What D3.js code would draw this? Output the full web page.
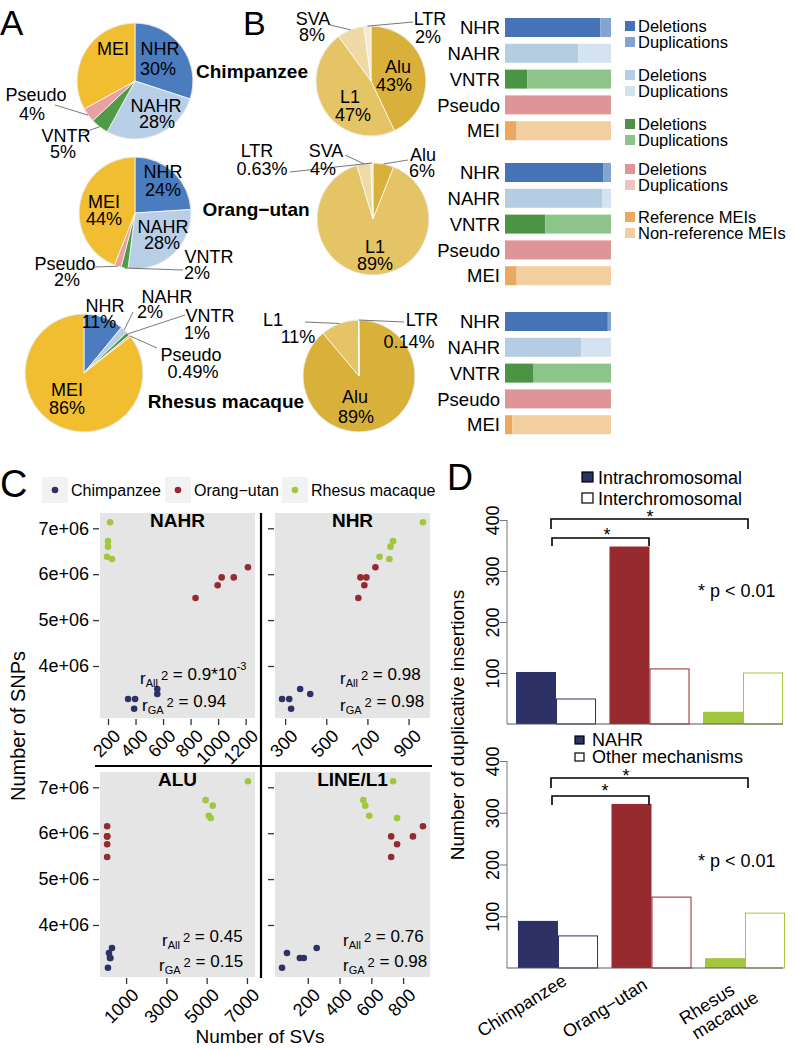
<!DOCTYPE html>
<html><head><meta charset="utf-8">
<script src="https://cdn.jsdelivr.net/npm/d3@7"></script>
<style>
body{margin:0;background:#fff;}
text{font-family:"Liberation Sans",Arial,Helvetica,sans-serif;fill:#000;}
</style>
</head><body><svg id="c" width="796" height="1049"></svg>
<script>
// ---------------- DATA ----------------
// Panel A: SV mechanism pies
const mechCats = ["NHR","NAHR","VNTR","Pseudo","MEI"];
const mechChimp = [30,28,5,4,33];
const mechOrang = [24,28,2,2,44];
const mechRhesus = [11,2,1,0.49,86];
// Panel B: MEI class pies
const meiCats = ["Alu","L1","SVA","LTR"];
const meiChimp = [43,47,8,2];
const meiOrang = [6,89,4,0.63];
const meiRhesus = [89,11,0,0.14];
// Panel B: bars, % deletions (rest = duplications / non-reference)
const svRows = ["NHR","NAHR","VNTR","Pseudo","MEI"];
const delPctChimp = [90,69,21,100,11];
const delPctOrang = [93,92,38,100,11];
const delPctRhesus = [97,72,27,100,7];
const barLegendLabels = [["Deletions","Duplications"],["Deletions","Duplications"],["Deletions","Duplications"],["Deletions","Duplications"],["Reference MEIs","Non-reference MEIs"]];
// Panel C: SNPs vs SVs
const speciesC = ["Chimpanzee","Orang\u2212utan","Rhesus macaque"];
const snpChimp = [3.28e6,3.28e6,3.07e6,3.50e6,3.39e6];
const snpOrang = [5.48e6,5.76e6,5.93e6,5.93e6,6.15e6];
const snpRhesus = [6.38e6,6.33e6,6.60e6,6.72e6,7.13e6];
const nahrChimp = [346,397,390,558,558];
const nahrOrang = [836,997,1026,1114,1217];
const nahrRhesus = [193,229,200,200,215];
const nhrChimp = [285,320,329,373,422];
const nhrOrang = [656,685,666,695,739];
const nhrRhesus = [759,807,812,825,970];
const aluChimp = [200,220,100,300,150];
const aluOrang = [60,60,55,65,60];
const aluRhesus = [5100,5200,5300,4950,7050];
const l1Chimp = [150,175,38,256,69];
const l1Orang = [725,762,725,862,925];
const l1Rhesus = [587,762,562,550,737];
const panelTitles = ["NAHR","NHR","ALU","LINE/L1"];
const xTicksC = [[200,400,600,800,1000,1200],[300,500,700,900],[1000,3000,5000,7000],[200,400,600,800]];
const yTicksC = [4e6,5e6,6e6,7e6];
const yTickLabelsC = ["4e+06","5e+06","6e+06","7e+06"];
const r2All = ["0.9*10^-3","0.98","0.45","0.76"];
const r2GA = ["0.94","0.98","0.15","0.98"];
// Panel D
const speciesD = ["Chimpanzee","Orang\u2212utan","Rhesus\nmacaque"];
const intraVals = [102,348,24];
const interVals = [49,108,100];
const nahrVals = [91,317,19];
const otherVals = [62,137,106];
const yTicksD = [100,200,300,400];

// ---------------- STYLE ----------------
const svg = d3.select("#c");
svg.append("rect").attr("width",796).attr("height",1049).attr("fill","#fff");
const mechColors = ["#4a7cbf","#b8cfe7","#4f9b48","#e9a0a3","#f2be31"];
const meiColors = ["#d9b13a","#e5c466","#efd9a5","#f6ead0"];
const barColors = [["#4672b6","#83a4d1"],["#b4cde3","#d5e2ef"],["#4b9446","#8dc48a"],["#df9598","#efc3c5"],["#eba85e","#f3cfa0"]];
const spColors = ["#2d3166","#972a2e","#a3c63f"];

function txt(g,x,y,s,size,anchor,weight){
  return g.append("text").attr("x",x).attr("y",y).text(s)
    .attr("font-size",size||19).attr("text-anchor",anchor||"middle")
    .attr("font-weight",weight||"normal");
}

// panel letters
[["A",0,35,35],["B",243,35,34],["C",0,497,38],["D",447,490,36]].forEach(l=>txt(svg,l[1],l[2],l[0],l[3],"start"));

// ---------------- PIES ----------------
function drawPie(cx,cy,r,values,cats,colors,layout){
  const g = svg.append("g").attr("transform",`translate(${cx},${cy})`);
  const arcs = d3.pie().sort(null).value(d=>d)(values);
  const arc = d3.arc().innerRadius(0).outerRadius(r);
  const edge = d3.arc().innerRadius(r).outerRadius(r);
  g.selectAll("path").data(arcs).join("path").attr("d",arc)
    .attr("fill",(d,i)=>colors[i]).attr("stroke","#fff").attr("stroke-width",0.7);
  g.append("circle").attr("r",r).attr("fill","none").attr("stroke","#ddd").attr("stroke-width",0.6);
  arcs.forEach((a,i)=>{
    const L = layout[i]; if(!L || !L.lead) return;
    const c = edge.centroid(a);
    g.append("line").attr("x1",L.lead[0]).attr("y1",L.lead[1]).attr("x2",c[0]).attr("y2",c[1])
      .attr("stroke","#555").attr("stroke-width",0.8);
  });
  arcs.forEach((a,i)=>{
    const L = layout[i]; if(!L) return;
    txt(g,L.n[0],L.n[1],cats[i],18);
    if(L.p) txt(g,L.p[0],L.p[1],values[i]+"%",18);
  });
}
drawPie(135,81,58,mechChimp,mechCats,mechColors,[
  {n:[25,-26],p:[23,-6]},{n:[21,31],p:[22,47]},
  {n:[-69,61],p:[-72,77],lead:[-53,52]},{n:[-99,20],p:[-103,39],lead:[-80,24]},{n:[-22,-26]}]);
drawPie(135,213,56,mechOrang,mechCats,mechColors,[
  {n:[28,-35],p:[28,-17]},{n:[28,20],p:[27,36]},
  {n:[74,50],p:[62,66],lead:[48,57]},{n:[-70,57],p:[-68,73],lead:[-40,54]},{n:[-31,-5],p:[-31,12]}]);
drawPie(84,373,59,mechRhesus,mechCats,mechColors,[
  {n:[21,-61],p:[15,-45]},{n:[83,-70],p:[66,-55],lead:[49,-61]},
  {n:[126,-51],p:[113,-34],lead:[101,-58]},{n:[107,-12],p:[109,5],lead:[73,-25]},{n:[-17,23],p:[-17,41]}]);

drawPie(371,81,55,meiChimp,meiCats,meiColors,[
  {n:[27,-8],p:[23,10]},{n:[-21,22],p:[-18,40]},
  {n:[-58,-56],p:[-59,-40],lead:[-41,-56]},{n:[59,-56],p:[57,-38],lead:[42,-59]}]);
drawPie(373,219,56,meiOrang,meiCats,meiColors,[
  {n:[50,-58],p:[49,-42],lead:[35,-59]},{n:[2,34],p:[2,51]},
  {n:[-47,-62],p:[-50,-44],lead:[-28,-64]},{n:[-116,-62],p:[-111,-44],lead:[-83,-47]}]);
drawPie(359,376,56,meiRhesus,meiCats,meiColors,[
  {n:[-4,27],p:[-3,47]},{n:[-86,-50],p:[-61,-33],lead:[-54,-54]},
  null,{n:[63,-50],p:[50,-28],lead:[45,-54]}]);

txt(svg,252,78,"Chimpanzee",19,"middle","bold");
txt(svg,256,216,"Orang\u2212utan",19,"middle","bold");
txt(svg,226,408,"Rhesus macaque",19,"middle","bold");

// ---------------- B BARS ----------------
const xBar = d3.scaleLinear().domain([0,100]).range([505,611]);
[[18,delPctChimp],[163,delPctOrang],[312,delPctRhesus]].forEach(([top,vals])=>{
  const yb = d3.scaleBand().domain(svRows).range([top,top+122.2]).paddingInner(0.264).paddingOuter(0);
  const g = svg.append("g");
  svRows.forEach((row,i)=>{
    g.append("rect").attr("x",xBar(0)).attr("y",yb(row)).attr("width",xBar(vals[i])-xBar(0))
      .attr("height",yb.bandwidth()).attr("fill",barColors[i][0]);
    g.append("rect").attr("x",xBar(vals[i])).attr("y",yb(row)).attr("width",xBar(100)-xBar(vals[i]))
      .attr("height",yb.bandwidth()).attr("fill",barColors[i][1]);
    txt(g,500,yb(row)+yb.bandwidth()/2,row,18.5,"end").attr("dy","0.36em");
  });
});
// B legend
const legBase = [[32,48],[81,97],[130,146],[175,191],[223,239]];
barLegendLabels.forEach((pair,i)=>{
  pair.forEach((lab,j)=>{
    const yb = legBase[i][j];
    svg.append("rect").attr("x",625).attr("y",yb-11).attr("width",10).attr("height",10).attr("fill",barColors[i][j]);
    txt(svg,638,yb,lab,16.5,"start");
  });
});

// ---------------- C SCATTER ----------------
const legKeysX = [42,165,282];
speciesC.forEach((s,i)=>{
  svg.append("rect").attr("x",legKeysX[i]).attr("y",477).attr("width",26).attr("height",26).attr("fill","#f2f2f2");
  svg.append("circle").attr("cx",legKeysX[i]+13).attr("cy",490).attr("r",3.3).attr("fill",spColors[i]);
  txt(svg,legKeysX[i]+29,496,s,16,"start");
});
const panelData = [
  [[nahrChimp,snpChimp],[nahrOrang,snpOrang],[nahrRhesus,snpRhesus]],
  [[nhrChimp,snpChimp],[nhrOrang,snpOrang],[nhrRhesus,snpRhesus]],
  [[aluChimp,snpChimp],[aluOrang,snpOrang],[aluRhesus,snpRhesus]],
  [[l1Chimp,snpChimp],[l1Orang,snpOrang],[l1Rhesus,snpRhesus]]
];
const panelLayout = [
  {x0:100,x1:255,y0:513,y1:718,yLab:true, r2:[[140,680],[142,707]]},
  {x0:275,x1:430,y0:513,y1:718,yLab:false,r2:[[340,680],[340,707]]},
  {x0:100,x1:255,y0:772,y1:977,yLab:true, r2:[[162,942],[159,967]]},
  {x0:275,x1:430,y0:772,y1:977,yLab:false,r2:[[343,942],[343,967]]}
];
const allSnp = snpChimp.concat(snpOrang,snpRhesus);
function padDom(arr){const e=d3.extent(arr);const p=(e[1]-e[0])*0.05;return [e[0]-p,e[1]+p];}
const yDomC = padDom(allSnp);

function r2Text(g,x,y,sub,val){
  const t = g.append("text").attr("x",x).attr("y",y).attr("font-size",17);
  t.append("tspan").attr("dy",4).text("r");
  t.append("tspan").attr("font-size",11).attr("dy",3).text(sub);
  t.append("tspan").attr("font-size",13).attr("dx",3).attr("dy",-7).text("2");
  const parts = val.split("^");
  t.append("tspan").attr("font-size",17).text(" = "+parts[0]);
  if(parts[1]) t.append("tspan").attr("font-size",11).attr("dy",-10).text(parts[1]);
}

panelData.forEach((pd,k)=>{
  const L = panelLayout[k];
  const g = svg.append("g");
  const allX = pd[0][0].concat(pd[1][0],pd[2][0]);
  const x = d3.scaleLinear().domain(padDom(allX)).range([L.x0,L.x1]);
  const y = d3.scaleLinear().domain(yDomC).range([L.y1,L.y0]);
  g.append("rect").attr("x",L.x0).attr("y",L.y0).attr("width",L.x1-L.x0).attr("height",L.y1-L.y0).attr("fill","#e5e5e5");
  const ya = d3.axisLeft(y).tickValues(yTicksC).tickSize(6).tickPadding(4)
     .tickFormat((d,i)=>L.yLab?yTickLabelsC[i]:"");
  const yg = g.append("g").attr("transform",`translate(${L.x0-1},0)`).call(ya);
  yg.select(".domain").remove();
  yg.selectAll("line").attr("stroke","#333").attr("stroke-width",1.3);
  yg.selectAll("text").attr("font-size",18).attr("fill","#000").attr("font-family",null);
  const xa = d3.axisBottom(x).tickValues(xTicksC[k]).tickSize(6).tickFormat(d3.format("d"));
  const xg = g.append("g").attr("transform",`translate(0,${L.y1+1})`).call(xa);
  xg.select(".domain").remove();
  xg.selectAll("line").attr("stroke","#333").attr("stroke-width",1.3);
  xg.selectAll("text").attr("font-size",18).attr("fill","#000").attr("font-family",null)
    .attr("x",0).attr("y",0).attr("dy","0.72em").attr("text-anchor","end")
    .attr("transform","translate(4,9) rotate(-45)");
  pd.forEach((sp,si)=>{
    g.selectAll(null).data(sp[0]).join("circle")
      .attr("cx",d=>x(d)).attr("cy",(d,i)=>y(sp[1][i])).attr("r",3.3).attr("fill",spColors[si]);
  });
  txt(g,(L.x0+L.x1)/2,L.y0+14,panelTitles[k],19,"middle","bold");
  r2Text(g,L.r2[0][0],L.r2[0][1],"All",r2All[k]);
  r2Text(g,L.r2[1][0],L.r2[1][1],"GA",r2GA[k]);
});
svg.append("line").attr("x1",261).attr("x2",261).attr("y1",513).attr("y2",978).attr("stroke","#000").attr("stroke-width",2.2);
svg.append("line").attr("x1",95).attr("x2",432).attr("y1",766).attr("y2",766).attr("stroke","#000").attr("stroke-width",2.2);
txt(svg,0,0,"Number of SNPs",20).attr("transform","translate(25,726) rotate(-90)");
txt(svg,260,1043,"Number of SVs",19);

// ---------------- D BARS ----------------
function drawD(y,shift,v1,v2,legLabels,leg,brackets,pY){
  const g = svg.append("g");
  const xD = d3.scaleBand().domain(speciesD).range([509.25+shift,789.75+shift]).paddingInner(0.144).paddingOuter(0.072);
  const bw = xD.bandwidth()/2;
  speciesD.forEach((s,i)=>{
    g.append("rect").attr("x",xD(s)).attr("y",y(v1[i])).attr("width",bw).attr("height",y(0)-y(v1[i])).attr("fill",spColors[i]);
    g.append("rect").attr("x",xD(s)+bw+0.5).attr("y",y(v2[i])).attr("width",bw-1).attr("height",y(0)-y(v2[i]))
      .attr("fill","#fff").attr("stroke",spColors[i]).attr("stroke-width",1);
  });
  g.append("line").attr("x1",507).attr("x2",783).attr("y1",y(0)).attr("y2",y(0)).attr("stroke","#555");
  g.append("line").attr("x1",507).attr("x2",507).attr("y1",y(0)).attr("y2",y(400)).attr("stroke","#777");
  const ya = d3.axisLeft(y).tickValues(yTicksD).tickSize(7);
  const yg = g.append("g").attr("transform","translate(507,0)").call(ya);
  yg.select(".domain").remove();
  yg.selectAll("line").attr("stroke","#777");
  yg.selectAll("text").attr("font-size",18).attr("fill","#000").attr("font-family",null)
    .attr("x",0).attr("dy",null).attr("text-anchor","middle").attr("transform","translate(-8,0) rotate(-90)");
  legLabels.forEach((lab,j)=>{
    g.append("rect").attr("x",leg.x).attr("y",leg.b[j]-leg.s-1).attr("width",leg.s).attr("height",leg.s-1)
      .attr("fill",j===0?spColors[0]:"#fff").attr("stroke","#000").attr("stroke-width",1.2);
    txt(g,leg.tx,leg.b[j],lab,18,"start");
  });
  brackets.forEach(b=>{
    g.append("path").attr("d",`M${b.x1},${b.y+b.h}V${b.y}H${b.x2}V${b.y+b.h}`)
      .attr("fill","none").attr("stroke","#000").attr("stroke-width",1.6);
    txt(g,b.sx,b.sy+10,"*",18);
  });
  txt(g,698,pY,"* p < 0.01",18,"start");
  return xD;
}
const yTop = d3.scaleLinear().domain([0,400]).range([724,520]);
drawD(yTop,0,intraVals,interVals,["Intrachromosomal","Interchromosomal"],{x:582,tx:598,s:11,b:[484,505]},
  [{x1:551,x2:748,y:519,h:10,sx:650,sy:513},{x1:552,x2:649,y:538,h:8,sx:607,sy:531}],597);
const yBot = d3.scaleLinear().domain([0,400]).range([968,761]);
const xDb = drawD(yBot,2,nahrVals,otherVals,["NAHR","Other mechanisms"],{x:575,tx:592,s:9,b:[746,763]},
  [{x1:551,x2:748,y:778,h:10,sx:626,sy:772},{x1:552,x2:649,y:796,h:9,sx:605,sy:787}],867);
const xLabOff = [[10,984],[-3,988],[-9,993]];
speciesD.forEach((s,i)=>{
  const cx = xDb(s)+xDb.bandwidth()/2;
  const g = svg.append("g").attr("transform",`translate(${cx+xLabOff[i][0]},${xLabOff[i][1]}) rotate(-32)`);
  s.split("\n").forEach((line,j)=>{
    txt(g,j*16,j*19,line,18,"end");
  });
});
txt(svg,0,0,"Number of duplicative insertions",19).attr("transform","translate(464,725) rotate(-90)");
</script>
</body></html>
